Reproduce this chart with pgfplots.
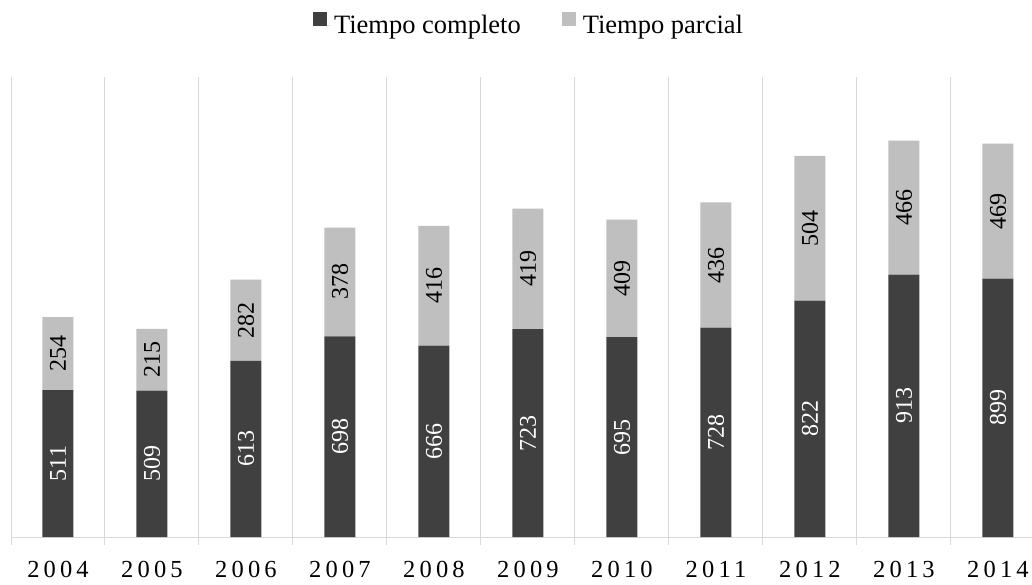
\documentclass[border=0pt]{standalone}
\usepackage{fontspec}
\setmainfont{Liberation Serif}
\newfontfamily\spacedfont[LetterSpace=17]{Liberation Serif}
\usepackage{pgfplots}
\pgfplotsset{compat=1.18}
\definecolor{FullDark}{HTML}{404040}
\definecolor{PartLight}{HTML}{BFBFBF}
\definecolor{GridGray}{HTML}{D9D9D9}

\begin{document}
\begin{tikzpicture}
\useasboundingbox (0pt,0pt) rectangle (1032pt,584pt);
\begin{axis}[
    at={(11pt,47pt)}, anchor=south west,
    scale only axis,
    width=1020.8pt, height=460pt,
    ybar stacked,
    bar width=31pt,
    xmin=-0.5, xmax=10.36,
    ymin=0, ymax=1600,
    hide y axis,
    axis x line*=bottom,
    x axis line style={GridGray, line width=1pt},
    xtick={0,...,10},
    xticklabels={2004,2005,2006,2007,2008,2009,2010,2011,2012,2013,2014},
    major tick length=0pt,
    minor xtick={-0.5,0.5,...,9.5},
    minor tick length=8pt,
    xtick align=outside,
    xminorgrids=true,
    minor grid style={GridGray, line width=1pt},
    minor tick style={GridGray, line width=1pt},
    xticklabel style={font=\fontsize{24.5}{24.5}\spacedfont, yshift=-21pt},
    /pgf/number format/assume math mode=true,
    nodes near coords,
    every node near coord/.style={
        font=\fontsize{24}{24}\selectfont, anchor=center, rotate=90},
    legend style={at={(0.508,1)}, anchor=center, yshift=52pt, draw=none,
        fill=none, font=\fontsize{26.5}{26.5}\selectfont, legend columns=2,
        nodes={inner sep=3pt},
        /tikz/column 2/.style={column sep=38pt}},
    legend image code/.code={\fill[#1] (0pt,-1pt) rectangle (14pt,13pt);
        \path (0pt,0pt) -- (18pt,0pt);},
]
\addplot[fill=FullDark, draw=none,
    every node near coord/.append style={text=white}] coordinates {
    (0,511) (1,509) (2,613) (3,698) (4,666) (5,723)
    (6,695) (7,728) (8,822) (9,913) (10,899)
};
\addplot[fill=PartLight, draw=none,
    every node near coord/.append style={text=black}] coordinates {
    (0,254) (1,215) (2,282) (3,378) (4,416) (5,419)
    (6,409) (7,436) (8,504) (9,466) (10,469)
};
\legend{Tiempo completo,Tiempo parcial}
\end{axis}
\end{tikzpicture}
\end{document}
